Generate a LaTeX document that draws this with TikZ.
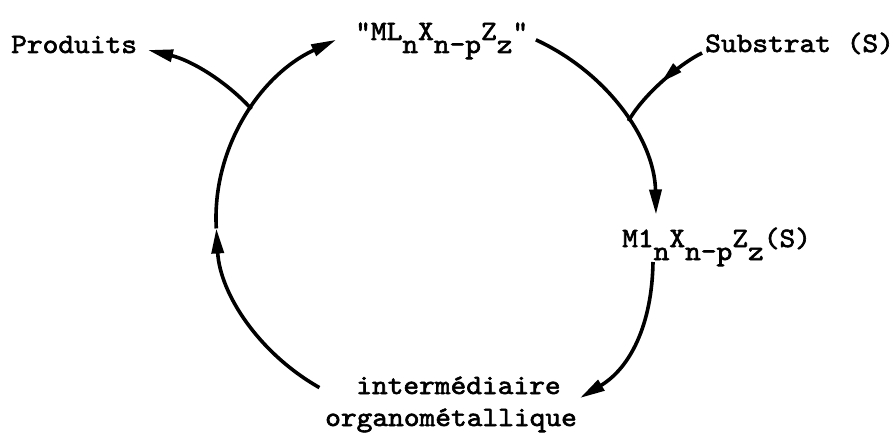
\documentclass[tikz,border=0pt]{standalone}
\usepackage{fontspec}
\newfontfamily\tw[Extension=.otf,FakeBold=2.2,FakeStretch=1.07]{lmmono10-regular}
\usetikzlibrary{arrows.meta,decorations.markings}
\newcommand{\lo}[1]{\raisebox{-13pt}{#1}}
\begin{document}
\begin{tikzpicture}[x=1pt,y=-1pt,
  lbl/.style={font=\tw\fontsize{28}{35}\selectfont, inner sep=0pt, anchor=base west},
  tipstyle/.style={-{Triangle[length=25pt,width=12pt]}},
  ln/.style={line width=3.6pt},
  ell/.style={x radius=220, y radius=200}]
\useasboundingbox (0,0) rectangle (896,433);
% labels
\node[lbl] (prod) at (11,53) {Produits};
\node[lbl] (cat) at (355,40) {"ML\lo{n}X\lo{n-p}Z\lo{z}"};
\node[lbl] (sub) at (705,52) {Substrat (S)};
\node[lbl] (cplx) at (622,247) {M1\lo{n}X\lo{n-p}Z\lo{z}(S)};
\node[lbl] (int1) at (356,394) {intermédiaire};
\node[lbl] (int2) at (325,426) {organométallique};
% cycle geometry
\coordinate (c) at (436,218);
\coordinate (L0) at ([shift={(122:220 and 200)}]c);
\coordinate (L1) at ([shift={(177:220 and 200)}]c);
\coordinate (JL) at ([shift={(213:220 and 200)}]c);
\coordinate (R0) at ([shift={(-63:220 and 200)}]c);
\coordinate (JR) at ([shift={(-29:220 and 200)}]c);
\coordinate (R2) at (653,262);
\coordinate (R3) at (580,398);
\coordinate (Pend) at (148,50);
\coordinate (Sstart) at (702,53);
% left arc
\draw[ln,tipstyle] (L0) arc[start angle=122, end angle=177, ell];
\draw[ln,tipstyle] (L1) arc[start angle=177, end angle=243, ell];
% right upper arc
\draw[ln,tipstyle] (R0) arc[start angle=-63, end angle=-1, ell];
% right lower arc
\draw[ln,tipstyle] (R2) .. controls (652,325) and (630,368) .. (R3);
% products branch
\draw[ln,tipstyle] (JL) .. controls (225,80) and (190,60) .. (Pend);
% substrate branch
\draw[ln,postaction={decorate},
  decoration={markings, mark=at position 0.5 with {\arrow{Triangle[length=22pt,width=11pt]}}}]
  (Sstart) .. controls (683,62) and (645,92) .. (JR);
\end{tikzpicture}
\end{document}
